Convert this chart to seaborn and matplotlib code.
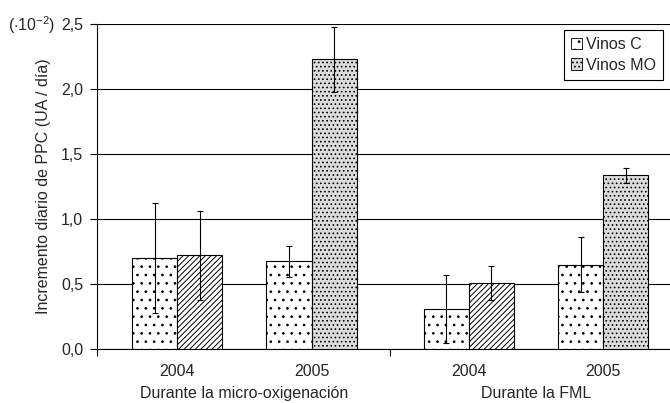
import pandas as pd
import matplotlib
matplotlib.use('Agg')
import matplotlib.pyplot as plt
from matplotlib.patches import Patch
import seaborn as sns

# data (values in 10^-2 UA/dia)
years = ['2004', '2005', '2004', '2005']
group_names = ['Durante la micro-oxigenación', 'Durante la FML']
series = ['Vinos C', 'Vinos MO']
vinos_c = [0.70, 0.675, 0.31, 0.65]
vinos_mo = [0.72, 2.23, 0.51, 1.335]
err_c = [0.42, 0.12, 0.26, 0.215]
err_mo = [0.34, 0.25, 0.13, 0.06]
yticks = [0.0, 0.5, 1.0, 1.5, 2.0, 2.5]
ytick_labels = ['0,0', '0,5', '1,0', '1,5', '2,0', '2,5']

# layout: bar-pair centres (second block is shifted a little to the right)
x_pos = [0.0, 1.0, 2.17, 3.17]
x_sep = 1.584
x_lim = (-0.595, 3.665)

sns.set_theme(style='white')
plt.rcParams['font.family'] = ['Liberation Sans', 'DejaVu Sans']
plt.rcParams['mathtext.fontset'] = 'custom'
plt.rcParams['mathtext.rm'] = 'Liberation Sans'
plt.rcParams['hatch.linewidth'] = 0.7
plt.rcParams['hatch.color'] = 'black'
FS = 11.5

df = pd.DataFrame({
    'pos': x_pos * 2,
    'serie': [series[0]] * 4 + [series[1]] * 4,
    'valor': vinos_c + vinos_mo,
})

fig = plt.figure(figsize=(6.7, 4.03), dpi=100)
ax = fig.add_axes([97 / 670, 54 / 403, 573 / 670, 325 / 403])

sns.barplot(data=df, x='pos', y='valor', hue='serie', hue_order=series,
            native_scale=True, width=0.67, errorbar=None,
            palette=['white', 'white'], edgecolor='black', linewidth=0.8,
            saturation=1, legend=False, ax=ax, zorder=3)

mo_hatch = ['//////', '....', '//////', '....']
mo_face = ['white', '#dcdcdc', 'white', '#dcdcdc']
for bar in ax.containers[0]:
    bar.set_hatch('..')
for bar, h, fc in zip(ax.containers[1], mo_hatch, mo_face):
    bar.set_hatch(h)
    bar.set_facecolor(fc)

# error bars
for cont, vals, errs in zip(ax.containers, [vinos_c, vinos_mo], [err_c, err_mo]):
    xs = [b.get_x() + b.get_width() / 2 for b in cont]
    ax.errorbar(xs, vals, yerr=errs, fmt='none', ecolor='black',
                elinewidth=0.8, capsize=2.3, capthick=0.8, zorder=4)

ax.set_ylim(0, 2.5)
ax.set_xlim(*x_lim)
ax.set_yticks(yticks)
ax.set_yticklabels(ytick_labels, fontsize=FS)
ax.yaxis.grid(True, color='black', linewidth=0.8, zorder=0)
ax.set_axisbelow(True)

ax.set_xticks(x_pos)
ax.set_xticklabels(years, fontsize=FS)
ax.set_xticks([x_lim[0], x_sep], minor=True)
ax.tick_params(axis='x', which='major', length=0, pad=11)
ax.tick_params(axis='x', which='minor', length=5, width=0.8, color='black',
               direction='out', bottom=True)
ax.tick_params(axis='y', length=5, width=0.8, color='black', direction='out',
               left=True, pad=5)

for s in ['top', 'right']:
    ax.spines[s].set_visible(False)
for s in ['left', 'bottom']:
    ax.spines[s].set_color('black')
    ax.spines[s].set_linewidth(0.8)

ax.set_xlabel('')
ax.set_ylabel('Incremento diario de PPC (UA / día)', fontsize=FS, labelpad=7)

# group labels under the years
mids = [(x_pos[0] + x_pos[1]) / 2, (x_pos[2] + x_pos[3]) / 2]
for m, name in zip(mids, group_names):
    ax.annotate(name, xy=(m, 0), xycoords=('data', 'axes fraction'),
                xytext=(0, -32), textcoords='offset points',
                ha='center', va='center', fontsize=FS)

fig.text(55 / 670, 1 - 25 / 403, r'$\mathrm{(\cdot10^{-2})}$', ha='right',
         va='center', fontsize=FS)

handles = [Patch(facecolor='white', edgecolor='black', hatch='..', linewidth=0.6),
           Patch(facecolor='#dcdcdc', edgecolor='black', hatch='....', linewidth=0.6)]
leg = ax.legend(handles, series, loc='upper right', bbox_to_anchor=(0.988, 0.982),
                fontsize=FS, frameon=True, fancybox=False, framealpha=1,
                edgecolor='black', borderpad=0.45, handlelength=0.7,
                handleheight=0.7, handletextpad=0.25, labelspacing=0.35,
                borderaxespad=0)
leg.get_frame().set_linewidth(0.8)

fig.savefig('out.png', dpi=100)
